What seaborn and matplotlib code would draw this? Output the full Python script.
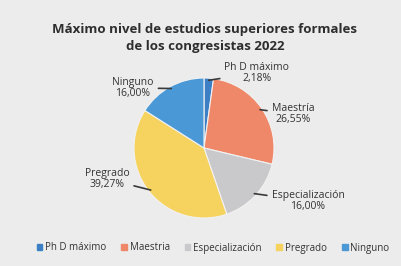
import numpy as np
import matplotlib
matplotlib.use("Agg")
import matplotlib.pyplot as plt
import seaborn as sns

# data
categories = ["Ph D máximo", "Maestria", "Especialización", "Pregrado", "Ninguno"]
label_names = ["Ph D máximo", "Maestría", "Especialización", "Pregrado", "Ninguno"]
shares = [2.18, 26.55, 16.00, 39.27, 16.00]
colors = ["#3d7fc4", "#ef8868", "#c9c9cc", "#f6d25e", "#4a98d6"]

# label layout (figure pixels, y from top)
label_pos = [(257, 73), (293, 114), (308, 201), (107, 179), (133, 88)]

sns.set_theme(style="white")
plt.rcParams["font.family"] = ["Open Sans", "DejaVu Sans"]

W, H = 402, 266
fig = plt.figure(figsize=(W / 100, H / 100), dpi=100)
fig.patch.set_facecolor("#ececec")
ax = fig.add_axes([0, 0, 1, 1])

cx, cy, r = 204, H - 148, 70
wedges, _ = ax.pie(shares, colors=colors, startangle=90, counterclock=False,
                   center=(cx, cy), radius=r, frame=True,
                   wedgeprops=dict(linewidth=0.8, edgecolor="#f2f2f2"))
ax.set_xlim(0, W)
ax.set_ylim(0, H)
ax.set_aspect("equal")
ax.axis("off")

for w, name, val, (lx, ly) in zip(wedges, label_names, shares, label_pos):
    ang = np.deg2rad((w.theta1 + w.theta2) / 2)
    ex, ey = cx + r * 0.97 * np.cos(ang), cy + r * 0.97 * np.sin(ang)
    txt = f"{name}\n{val:.2f}%".replace(".", ",")
    ax.annotate(txt, xy=(ex, ey), xytext=(lx, H - ly), ha="center", va="center",
                fontsize=7.5, color="#333333", linespacing=1.1,
                arrowprops=dict(arrowstyle="-", color="#3a3a3a", lw=1.2,
                                shrinkA=1, shrinkB=0))

ax.text(205, H - 38, "Máximo nivel de estudios superiores formales\nde los congresistas 2022",
        ha="center", va="center", fontsize=9.5, fontweight="bold", color="#2e2e2e",
        linespacing=1.45)

handles = [plt.Rectangle((0, 0), 1, 1, color=c) for c in colors]
fig.legend(handles, categories, loc="center", bbox_to_anchor=(0.53, 1 - 248 / H),
           ncol=5, frameon=False, fontsize=7, handlelength=0.6, handleheight=0.6,
           handletextpad=0.3, columnspacing=1.5, labelcolor="#333333")

fig.savefig("out.png", dpi=100, facecolor=fig.get_facecolor())
